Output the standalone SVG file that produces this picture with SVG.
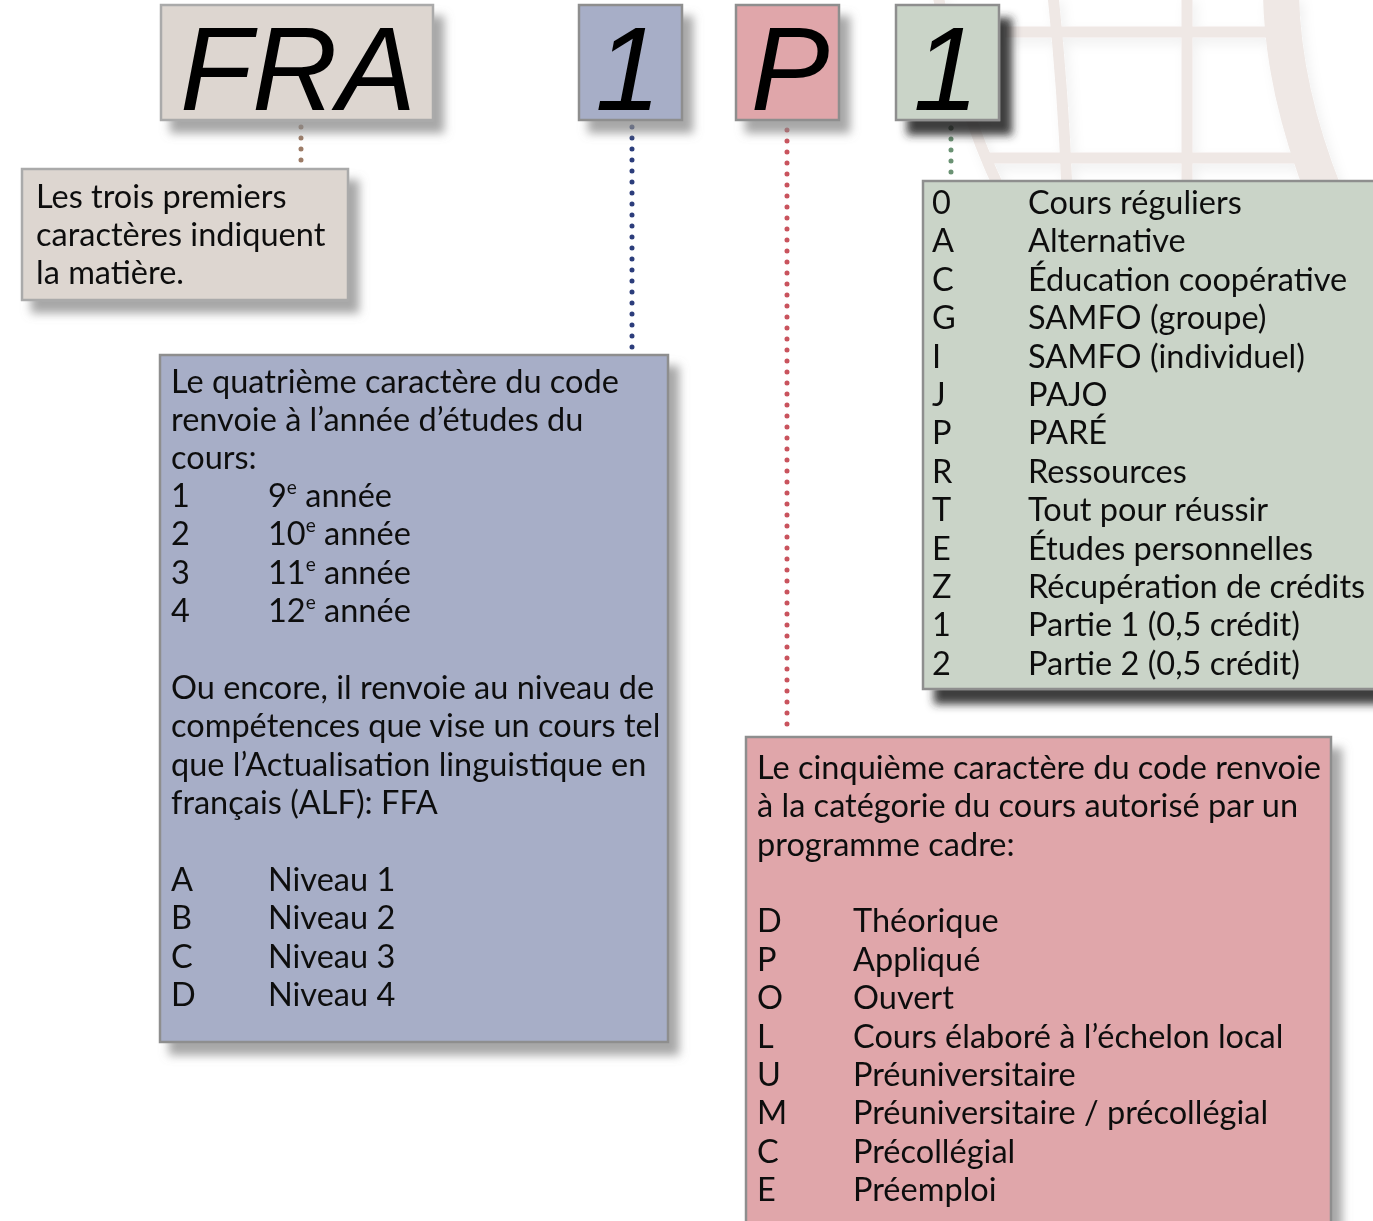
<svg xmlns="http://www.w3.org/2000/svg" width="1373" height="1221" viewBox="0 0 1373 1221">
<style>
.t{font-family:Lato,"Open Sans",sans-serif;font-size:32.5px;fill:#111}
.big{font-family:"Liberation Sans",Arial,sans-serif;font-style:italic;font-size:118px;fill:#000}
.sup{font-size:19px}
.bx{stroke-width:2.5}
.dot{fill:none;stroke-width:5;stroke-linecap:round;stroke-dasharray:0 11}
.globe{fill:none;stroke:#efe8e5}
</style>
<defs>
<filter id="sh" x="-20%" y="-20%" width="150%" height="150%">
<feGaussianBlur in="SourceAlpha" stdDeviation="5"/>
<feOffset dx="10" dy="12" result="b"/>
<feFlood flood-color="#8a8a8a" flood-opacity="0.75"/>
<feComposite in2="b" operator="in"/>
<feMerge><feMergeNode/><feMergeNode in="SourceGraphic"/></feMerge>
</filter>
<filter id="shd" x="-20%" y="-20%" width="150%" height="150%">
<feGaussianBlur in="SourceAlpha" stdDeviation="4"/>
<feOffset dx="12" dy="14" result="b"/>
<feFlood flood-color="#2a2a2a" flood-opacity="0.9"/>
<feComposite in2="b" operator="in"/>
<feMerge><feMergeNode/><feMergeNode in="SourceGraphic"/></feMerge>
</filter>
<filter id="gs" x="-10%" y="-10%" width="120%" height="120%">
<feGaussianBlur in="SourceAlpha" stdDeviation="6"/>
<feOffset dx="4" dy="6" result="b"/>
<feFlood flood-color="#000" flood-opacity="0.06"/>
<feComposite in2="b" operator="in"/>
<feMerge><feMergeNode/><feMergeNode in="SourceGraphic"/></feMerge>
</filter>
</defs>
<rect width="1373" height="1221" fill="#fff"/>
<g id="globe" filter="url(#gs)">
<path class="globe" stroke-width="11" d="M938 -5 Q958 100 1000 190"/>
<path class="globe" stroke-width="11" d="M1053 -5 Q1063 90 1067 190"/>
<path class="globe" stroke-width="11" d="M1187 -5 V190"/>
<path class="globe" stroke-width="11" d="M1005 32 H1268"/>
<path class="globe" stroke-width="11" d="M985 158 H1295"/>
<path class="globe" stroke-width="36" d="M1281 -5 Q1283 90 1325 195"/>
</g>
<g id="connectors">
<path class="dot" stroke="#9c7b66" d="M301 127 V161"/>
<path class="dot" stroke="#2b3d7b" d="M632 127 V350"/>
<path class="dot" stroke="#c9535d" d="M787 130 V728"/>
<path class="dot" stroke="#6a9273" d="M951 128 V177"/>
<circle cx="951" cy="128" r="2.5" fill="#2f4a35"/>
</g>
<g id="code-fra" filter="url(#sh)">
<rect class="bx" x="161" y="5" width="272" height="115" fill="#ddd6d0" stroke="#aaa"/>
<text class="big" x="180" y="110" textLength="236" lengthAdjust="spacingAndGlyphs">FRA</text>
</g>
<g id="code-1a" filter="url(#sh)">
<rect class="bx" x="579" y="5" width="103" height="115" fill="#a7aec7" stroke="#8e8e8e"/>
<text class="big" x="628" y="110" text-anchor="middle">1</text>
</g>
<g id="code-p" filter="url(#sh)">
<rect class="bx" x="736" y="5" width="103" height="115" fill="#e0a6aa" stroke="#8e8e8e"/>
<text class="big" x="790" y="110" text-anchor="middle">P</text>
</g>
<g id="code-1b" filter="url(#shd)">
<rect class="bx" x="896" y="5" width="103" height="115" fill="#cad4c8" stroke="#8e8e8e"/>
<text class="big" x="946" y="110" text-anchor="middle">1</text>
</g>
<g id="desc-matiere" filter="url(#sh)">
<rect class="bx" x="22" y="169" width="326" height="131" fill="#ddd6d0" stroke="#aaa"/>
<text class="t" x="36" y="208">Les trois premiers</text>
<text class="t" x="36" y="246">caractères indiquent</text>
<text class="t" x="36" y="284">la matière.</text>
</g>
<g id="desc-annee" filter="url(#sh)">
<rect class="bx" x="160" y="355" width="508" height="687" fill="#a7aec7" stroke="#8e8e8e"/>
<text class="t" x="171" y="393">Le quatrième caractère du code</text>
<text class="t" x="171" y="431">renvoie à l’année d’études du</text>
<text class="t" x="171" y="469">cours:</text>
<text class="t" x="171" y="507">1</text><text class="t" x="268" y="507">9<tspan class="sup" dy="-13">e</tspan><tspan dy="13"> année</tspan></text>
<text class="t" x="171" y="545">2</text><text class="t" x="268" y="545">10<tspan class="sup" dy="-13">e</tspan><tspan dy="13"> année</tspan></text>
<text class="t" x="171" y="584">3</text><text class="t" x="268" y="584">11<tspan class="sup" dy="-13">e</tspan><tspan dy="13"> année</tspan></text>
<text class="t" x="171" y="622">4</text><text class="t" x="268" y="622">12<tspan class="sup" dy="-13">e</tspan><tspan dy="13"> année</tspan></text>
<text class="t" x="171" y="699">Ou encore, il renvoie au niveau de</text>
<text class="t" x="171" y="737">compétences que vise un cours tel</text>
<text class="t" x="171" y="776">que l’Actualisation linguistique en</text>
<text class="t" x="171" y="814">français (ALF): FFA</text>
<text class="t" x="171" y="891">A</text><text class="t" x="268" y="891">Niveau 1</text>
<text class="t" x="171" y="929">B</text><text class="t" x="268" y="929">Niveau 2</text>
<text class="t" x="171" y="968">C</text><text class="t" x="268" y="968">Niveau 3</text>
<text class="t" x="171" y="1006">D</text><text class="t" x="268" y="1006">Niveau 4</text>
</g>
<g id="desc-type" filter="url(#shd)">
<rect class="bx" x="923" y="181" width="470" height="508" fill="#cad4c8" stroke="#8e8e8e"/>
<text class="t" x="932" y="214">0</text><text class="t" x="1028" y="214">Cours réguliers</text>
<text class="t" x="932" y="252">A</text><text class="t" x="1028" y="252">Alternative</text>
<text class="t" x="932" y="291">C</text><text class="t" x="1028" y="291">Éducation coopérative</text>
<text class="t" x="932" y="329">G</text><text class="t" x="1028" y="329">SAMFO (groupe)</text>
<text class="t" x="932" y="368">I</text><text class="t" x="1028" y="368">SAMFO (individuel)</text>
<text class="t" x="932" y="406">J</text><text class="t" x="1028" y="406">PAJO</text>
<text class="t" x="932" y="444">P</text><text class="t" x="1028" y="444">PARÉ</text>
<text class="t" x="932" y="483">R</text><text class="t" x="1028" y="483">Ressources</text>
<text class="t" x="932" y="521">T</text><text class="t" x="1028" y="521">Tout pour réussir</text>
<text class="t" x="932" y="560">E</text><text class="t" x="1028" y="560">Études personnelles</text>
<text class="t" x="932" y="598">Z</text><text class="t" x="1028" y="598">Récupération de crédits</text>
<text class="t" x="932" y="636">1</text><text class="t" x="1028" y="636">Partie 1 (0,5 crédit)</text>
<text class="t" x="932" y="675">2</text><text class="t" x="1028" y="675">Partie 2 (0,5 crédit)</text>
</g>
<g id="desc-categorie" filter="url(#sh)">
<rect class="bx" x="746" y="737" width="585" height="500" fill="#e0a6aa" stroke="#8e8e8e"/>
<text class="t" x="757" y="779">Le cinquième caractère du code renvoie</text>
<text class="t" x="757" y="817">à la catégorie du cours autorisé par un</text>
<text class="t" x="757" y="856">programme cadre:</text>
<text class="t" x="757" y="932">D</text><text class="t" x="853" y="932">Théorique</text>
<text class="t" x="757" y="971">P</text><text class="t" x="853" y="971">Appliqué</text>
<text class="t" x="757" y="1009">O</text><text class="t" x="853" y="1009">Ouvert</text>
<text class="t" x="757" y="1048">L</text><text class="t" x="853" y="1048">Cours élaboré à l’échelon local</text>
<text class="t" x="757" y="1086">U</text><text class="t" x="853" y="1086">Préuniversitaire</text>
<text class="t" x="757" y="1124">M</text><text class="t" x="853" y="1124">Préuniversitaire / précollégial</text>
<text class="t" x="757" y="1163">C</text><text class="t" x="853" y="1163">Précollégial</text>
<text class="t" x="757" y="1201">E</text><text class="t" x="853" y="1201">Préemploi</text>
</g>
</svg>
